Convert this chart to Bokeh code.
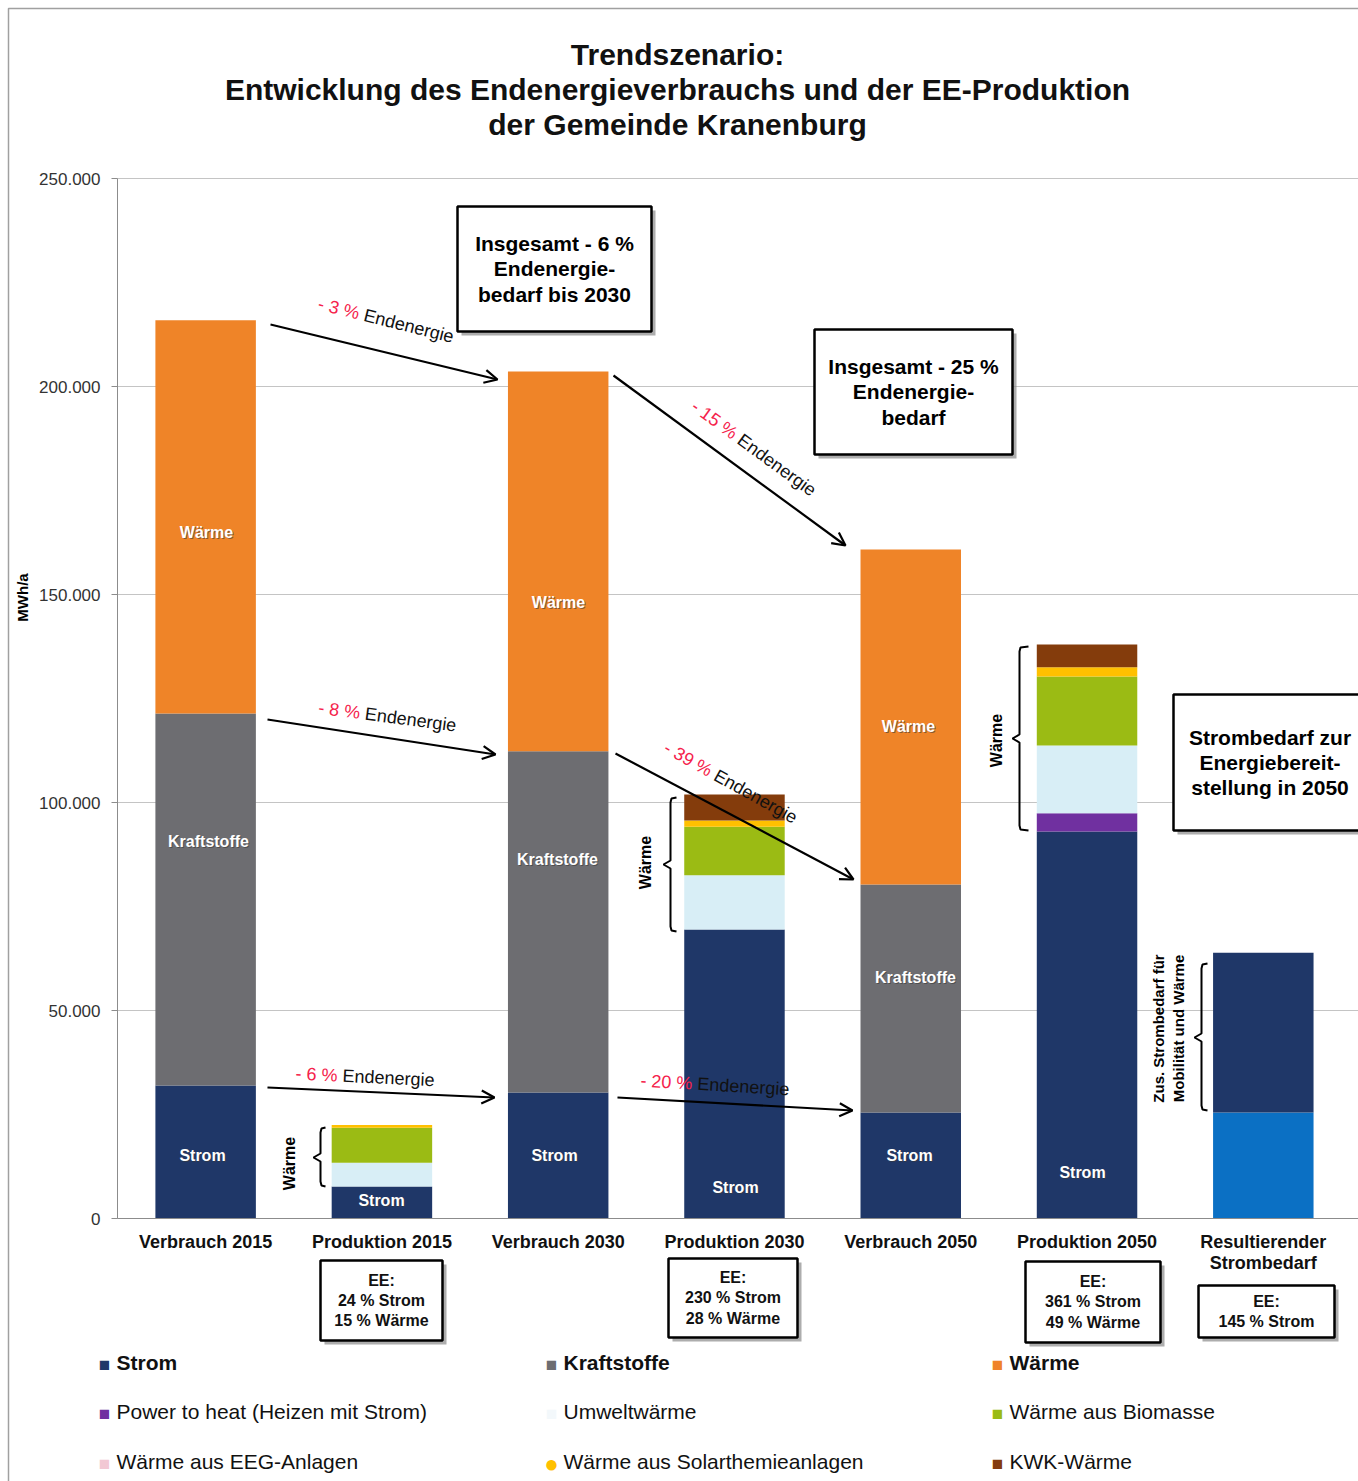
import math
from bokeh.plotting import figure
from bokeh.models import Range1d, FixedTicker, Label, Arrow, OpenHead, ColumnDataSource
from bokeh.embed import file_html
from bokeh.resources import INLINE

# ---------------- data (MWh/a) ----------------
categories = ["Verbrauch 2015", "Produktion 2015", "Verbrauch 2030", "Produktion 2030",
              "Verbrauch 2050", "Produktion 2050", "Resultierender\nStrombedarf"]
strom = [32000, 7700, 30300, 69500, 25500, 93000, 0]
power_to_heat = [0, 0, 0, 0, 0, 4400, 0]
umweltwaerme = [0, 5700, 0, 13000, 0, 16300, 0]
biomasse = [0, 8400, 0, 11700, 0, 16600, 0]
solarthermie = [0, 700, 0, 1500, 0, 2200, 0]
kwk_waerme = [0, 0, 0, 6200, 0, 5500, 0]
kraftstoffe = [89400, 0, 82000, 0, 54800, 0, 0]
waerme = [94500, 0, 91300, 0, 80500, 0, 0]
strombedarf_2050 = [0, 0, 0, 0, 0, 0, 25500]
zus_strombedarf = [0, 0, 0, 0, 0, 0, 38400]
y_ticks = [0, 50000, 100000, 150000, 200000, 250000]

ee_boxes = ["EE:\n24 % Strom\n15 % Wärme", "EE:\n230 % Strom\n28 % Wärme",
            "EE:\n361 % Strom\n49 % Wärme", "EE:\n145 % Strom"]
arrow_pcts = ["- 3 %", "- 8 %", "- 6 %", "- 15 %", "- 39 %", "- 20 %"]

# ---------------- colours ----------------
C_STROM = "#1f3768"
C_KRAFT = "#6d6d71"
C_WAERME = "#ef8428"
C_PTH = "#7030a0"
C_UMWELT = "#d8eef6"
C_BIO = "#9bbb14"
C_SOLAR = "#ffc000"
C_KWK = "#843c0c"
C_EEG = "#f2c8d4"
C_STROM50 = "#0b70c4"
RED = "#f5224b"
FONT = "Liberation Sans"

W, H = 1358, 1481
L, R, T, B = 117, 1358, 178, 1218
XSPAN = 7.04


def X(px):
    return -0.5 + (px - L) * XSPAN / (R - L)


def Y(py):
    return (B - py) * 250000 / (B - T)


p = figure(width=W, height=H, output_backend="svg", toolbar_location=None,
           x_range=Range1d(X(0), X(W)), y_range=Range1d(Y(H), Y(0)),
           min_border=0, title=None)
p.outline_line_color = None
p.background_fill_color = "white"
p.border_fill_color = "white"
p.xgrid.grid_line_color = None
p.ygrid.grid_line_color = None

# horizontal grid lines at the tick values, only across the plot area
p.segment(x0=[X(L)] * len(y_ticks), x1=[X(W)] * len(y_ticks), y0=y_ticks, y1=y_ticks,
          line_color="#c4c4c4", line_width=1)

# axes (placed at the plot area edges)
p.yaxis.fixed_location = X(L)
p.yaxis.bounds = (0, 250000)
p.yaxis.ticker = FixedTicker(ticks=y_ticks)
p.yaxis.major_label_overrides = {v: (f"{v:,}".replace(",", ".")) for v in y_ticks}
p.yaxis.major_label_text_font = FONT
p.yaxis.major_label_text_font_size = "17px"
p.yaxis.major_label_text_color = "#333333"
p.yaxis.axis_line_color = "#8c8c8c"
p.yaxis.major_tick_line_color = "#8c8c8c"
p.yaxis.major_tick_out = 6
p.yaxis.major_tick_in = 0
p.yaxis.minor_tick_line_color = None
p.yaxis.major_label_standoff = 11

p.xaxis.fixed_location = 0
p.xaxis.bounds = (X(L), X(W))
p.xaxis.ticker = FixedTicker(ticks=list(range(len(categories))))
p.xaxis.major_label_overrides = {i: c for i, c in enumerate(categories)}
p.xaxis.major_label_text_font = FONT
p.xaxis.major_label_text_font_size = "18px"
p.xaxis.major_label_text_font_style = "bold"
p.xaxis.major_label_text_color = "#111111"
p.xaxis.major_label_text_line_height = 1.05
p.xaxis.axis_line_color = "#8c8c8c"
p.xaxis.major_tick_line_color = None
p.xaxis.minor_tick_line_color = None
p.xaxis.major_label_standoff = 7

# outer frame of the picture
p.line([X(8), X(8), X(W)], [Y(H), Y(8), Y(8)], line_color="#a0a0a0", line_width=1.5)

# ---------------- bars ----------------
src = ColumnDataSource(dict(
    x=list(range(len(categories))), strom=strom, pth=power_to_heat, umwelt=umweltwaerme,
    bio=biomasse, solar=solarthermie, kwk=kwk_waerme, kraft=kraftstoffe, waerme=waerme,
    s50=strombedarf_2050, zus=zus_strombedarf))
stackers = ["strom", "pth", "umwelt", "bio", "solar", "kwk", "kraft", "waerme", "s50", "zus"]
colors = [C_STROM, C_PTH, C_UMWELT, C_BIO, C_SOLAR, C_KWK, C_KRAFT, C_WAERME, C_STROM50, C_STROM]
p.vbar_stack(stackers, x="x", width=0.57, fill_color=colors, line_color=None, source=src)


def lbl(px, py, text, size="16px", style="normal", color="black", align="center",
        baseline="middle", angle=0.0, lh=1.2, **kw):
    lab = Label(x=X(px), y=Y(py), text=text, text_font=FONT, text_font_size=size,
                text_font_style=style, text_color=color, text_align=align,
                text_baseline=baseline, angle=angle, text_line_height=lh, **kw)
    p.add_layout(lab)
    return lab


# y-axis title
lbl(22, 597, "MWh/a", size="15px", style="bold", angle=math.pi / 2)

# labels inside bars (white with dark shadow)
bar_labels = [(206, 532, "Wärme"), (208, 841, "Kraftstoffe"), (202, 1155, "Strom"),
              (381, 1200, "Strom"),
              (558, 602, "Wärme"), (557, 859, "Kraftstoffe"), (554, 1155, "Strom"),
              (735, 1187, "Strom"),
              (908, 726, "Wärme"), (915, 977, "Kraftstoffe"), (909, 1155, "Strom"),
              (1082, 1172, "Strom")]
for bx, by, t in bar_labels:
    lbl(bx + 1, by + 1, t, size="16px", style="bold", color="#3a3a3a", text_alpha=0.6)
    lbl(bx, by, t, size="16px", style="bold", color="white")

# ---------------- brackets ----------------
brackets = [(325, 320, 313, 1127, 1157, 1186),
            (676, 670, 663, 797, 864, 931),
            (1028, 1019, 1012, 646, 738, 830),
            (1207, 1201, 1194, 963, 1037, 1110)]
for xe, xv, xt, tp, md, bt in brackets:
    xs = [xe, xv + 1, xv, xv, xt, xv, xv, xv + 1, xe]
    ys = [tp, tp + 1, tp + 5, md - 4, md, md + 4, bt - 5, bt - 1, bt]
    p.line([X(a) for a in xs], [Y(b) for b in ys], line_color="black", line_width=2)

for bx, by in [(289, 1163), (645, 862), (996, 740)]:
    lbl(bx, by, "Wärme", size="16px", style="bold", angle=math.pi / 2)
lbl(1168, 1028, "Zus. Strombedarf für\nMobilität und Wärme", size="15px", style="bold",
    angle=math.pi / 2, lh=1.2)

# ---------------- arrows with labels ----------------
arrows = [((270, 324), (497, 379)), ((267, 719), (495, 754)), ((267, 1087), (494, 1097)),
          ((613, 375), (845, 545)), ((615, 753), (853, 879)), ((617, 1097), (852, 1110))]
for (x0, y0), (x1, y1) in arrows:
    p.add_layout(Arrow(x_start=X(x0), y_start=Y(y0), x_end=X(x1), y_end=Y(y1),
                       line_width=2.2, line_color="black",
                       end=OpenHead(size=13, line_width=2.2, line_color="black")))

CW = {"-": 0.333, " ": 0.278, "%": 0.889}
label_pos = [(318, 303, 14), (318, 707, 7.5), (295, 1073, 2.8),
             (693, 404, 36), (665, 746, 29), (640, 1080, 3.4)]
for (sx, sy, ang), pct in zip(label_pos, arrow_pcts):
    a = math.radians(ang)
    lbl(sx, sy, pct, size="18px", color=RED, align="left", angle=-a)
    w = sum(CW.get(ch, 0.556) for ch in pct + " ") * 18
    lbl(sx + w * math.cos(a), sy + w * math.sin(a), "Endenergie", size="18px",
        color="#111111", align="left", angle=-a)

# ---------------- boxes inside the plot ----------------
boxes = [((457, 206, 651, 331), "Insgesamt - 6 %\nEndenergie-\nbedarf bis 2030"),
         ((814, 329, 1012, 454), "Insgesamt - 25 %\nEndenergie-\nbedarf"),
         ((1173, 694, 1368, 830), "Strombedarf zur\nEnergiebereit-\nstellung in 2050")]
for (l, t, r, b), txt in boxes:
    p.quad(left=X(l + 4), right=X(r + 4), top=Y(t + 4), bottom=Y(b + 4),
           fill_color="#8a8a8a", fill_alpha=0.7, line_color=None)
    p.quad(left=X(l), right=X(r), top=Y(t), bottom=Y(b),
           fill_color="white", line_color="black", line_width=2.5)
    lbl((l + min(r, 1366)) / 2, (t + b) / 2, txt, size="21px", style="bold", lh=1.1)

# ---------------- EE boxes below the axis ----------------
ee_rects = [(320, 1260, 442, 1340), (668, 1258, 797, 1337),
            (1025, 1261, 1160, 1342), (1198, 1285, 1334, 1337)]
for (l, t, r, b), txt in zip(ee_rects, ee_boxes):
    p.quad(left=X(l + 4), right=X(r + 4), top=Y(t + 4), bottom=Y(b + 4),
           fill_color="#8a8a8a", fill_alpha=0.7, line_color=None)
    p.quad(left=X(l), right=X(r), top=Y(t), bottom=Y(b),
           fill_color="white", line_color="black", line_width=2.5)
    lbl((l + r) / 2, (t + b) / 2, txt, size="16px", style="bold", color="#111111")

# ---------------- title ----------------
for ty, tt in [(55, "Trendszenario:"),
               (90, "Entwicklung des Endenergieverbrauchs und der EE-Produktion"),
               (125, "der Gemeinde Kranenburg")]:
    lbl(677, ty - 1, tt, size="30px", style="bold", color="#111111")

# ---------------- legend ----------------
legend_items = [(104, 1363, "■", C_STROM, "Strom", "bold"),
                (551, 1363, "■", C_KRAFT, "Kraftstoffe", "bold"),
                (997, 1363, "■", C_WAERME, "Wärme", "bold"),
                (104, 1412, "■", C_PTH, "Power to heat (Heizen mit Strom)", "normal"),
                (551, 1412, "■", "#f3f8fb", "Umweltwärme", "normal"),
                (997, 1412, "■", C_BIO, "Wärme aus Biomasse", "normal"),
                (104, 1462, "■", C_EEG, "Wärme aus EEG-Anlagen", "normal"),
                (551, 1462, "●", C_SOLAR, "Wärme aus Solarthemieanlagen", "normal"),
                (997, 1462, "■", C_KWK, "KWK-Wärme", "normal")]
for mx, my, sym, col, txt, sty in legend_items:
    lbl(mx, my + 1, sym, size=("24px" if sym == "●" else "19px"), color=col)
    lbl(mx + 12, my - 1, txt, size="21px", style=sty, color="#111111", align="left")

open("out.html", "w").write(file_html(p, INLINE))
